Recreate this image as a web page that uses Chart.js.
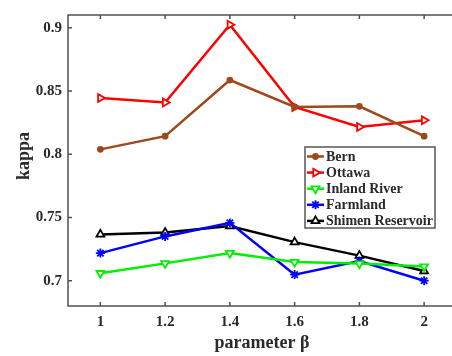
<!DOCTYPE html>
<html><head><meta charset="utf-8">
<script src="https://cdn.jsdelivr.net/npm/chart.js@4/dist/chart.umd.min.js"></script>
<style>html,body{margin:0;padding:0;background:#fff;overflow:hidden;width:452px;height:356px}canvas{display:block}</style>
</head><body>
<canvas id="c" width="470" height="356"></canvas>
<script>
const xValues = [1, 1.2, 1.4, 1.6, 1.8, 2];
const xTickLabels = ['1', '1.2', '1.4', '1.6', '1.8', '2'];
const yTicks = [0.7, 0.75, 0.8, 0.85, 0.9];
const yTickLabels = ['0.7', '0.75', '0.8', '0.85', '0.9'];
const seriesNames = ['Bern', 'Ottawa', 'Inland River', 'Farmland', 'Shimen Reservoir'];
const bern = [0.8038, 0.8142, 0.8586, 0.8373, 0.8378, 0.8142];
const ottawa = [0.8444, 0.8408, 0.9023, 0.8373, 0.8215, 0.8268];
const inlandRiver = [0.7059, 0.7137, 0.7218, 0.7147, 0.7135, 0.7112];
const farmland = [0.7218, 0.7350, 0.7457, 0.7048, 0.7155, 0.7000];
const shimenReservoir = [0.7366, 0.7381, 0.7432, 0.7305, 0.7198, 0.7076];

const FONT = '"Liberation Serif", "Times New Roman", serif';
const pts = arr => xValues.map((x, i) => ({x: x, y: arr[i]}));

const styles = [
  {color: '#9c4a1c', pointStyle: 'circle', rot: 0, r: 2.5, fill: '#9c4a1c'},
  {color: '#ff0000', pointStyle: 'triangle', rot: 90, r: 4.5, fill: '#ffffff'},
  {color: '#00ee00', pointStyle: 'triangle', rot: 180, r: 4.5, fill: '#ffffff'},
  {color: '#0000ff', pointStyle: 'star', rot: 0, r: 4.5, fill: '#0000ff'},
  {color: '#000000', pointStyle: 'triangle', rot: 0, r: 4.5, fill: '#ffffff'}
];
const seriesData = [bern, ottawa, inlandRiver, farmland, shimenReservoir];

const datasets = seriesData.map((arr, i) => ({
  label: seriesNames[i],
  data: pts(arr),
  borderColor: styles[i].color,
  backgroundColor: styles[i].fill,
  borderWidth: 2.5,
  pointStyle: styles[i].pointStyle,
  pointRotation: styles[i].rot,
  pointRadius: styles[i].r,
  pointBorderWidth: 1.8,
  pointBorderColor: styles[i].color,
  pointBackgroundColor: styles[i].fill,
  tension: 0
}));

const framePlugin = {
  id: 'frame',
  beforeDatasetsDraw(chart) {
    const ctx = chart.ctx, a = chart.chartArea;
    const xs = chart.scales.x, ys = chart.scales.y;
    ctx.save();
    ctx.strokeStyle = '#505050';
    ctx.lineWidth = 1.5;
    ctx.strokeRect(a.left, a.top, a.right - a.left, a.bottom - a.top);
    ctx.beginPath();
    xValues.forEach(v => {
      const px = xs.getPixelForValue(v);
      ctx.moveTo(px, a.bottom); ctx.lineTo(px, a.bottom - 4);
      ctx.moveTo(px, a.top); ctx.lineTo(px, a.top + 4);
    });
    yTicks.forEach(v => {
      const py = ys.getPixelForValue(v);
      ctx.moveTo(a.left, py); ctx.lineTo(a.left + 4, py);
      ctx.moveTo(a.right, py); ctx.lineTo(a.right - 4, py);
    });
    ctx.stroke();
    ctx.restore();
  },
  afterDraw(chart) {
    const ctx = chart.ctx;
    ctx.save();
    ctx.fillStyle = '#2a2a2a';
    ctx.font = 'bold 18px ' + FONT;
    ctx.textAlign = 'center';
    ctx.textBaseline = 'middle';
    ctx.fillText('parameter β', 262, 343);
    ctx.translate(24, 156);
    ctx.rotate(-Math.PI / 2);
    ctx.fillText('kappa', 0, 0);
    ctx.restore();
    // legend
    const lx = 305, ly = 147, lw = 130, lh = 81;
    ctx.save();
    ctx.fillStyle = '#ffffff';
    ctx.fillRect(lx, ly, lw, lh);
    ctx.strokeStyle = '#555555';
    ctx.lineWidth = 1.5;
    ctx.strokeRect(lx, ly, lw, lh);
    ctx.font = 'bold 14px ' + FONT;
    ctx.textBaseline = 'middle';
    ctx.textAlign = 'left';
    chart.data.datasets.forEach((ds, i) => {
      const y = 156.5 + i * 16.1;
      ctx.strokeStyle = ds.borderColor;
      ctx.lineWidth = 2.5;
      ctx.beginPath(); ctx.moveTo(307, y); ctx.lineTo(324, y); ctx.stroke();
      ctx.lineWidth = 1.8;
      ctx.fillStyle = ds.pointBackgroundColor;
      Chart.helpers.drawPoint(ctx, {pointStyle: ds.pointStyle, rotation: ds.pointRotation, radius: ds.pointRadius, borderWidth: 1.8}, 315.5, y);
      ctx.fillStyle = '#2a2a2a';
      ctx.fillText(ds.label, 326, y + 0.5);
    });
    ctx.restore();
  }
};

new Chart(document.getElementById('c'), {
  type: 'line',
  data: {datasets: datasets},
  plugins: [framePlugin],
  options: {
    responsive: false,
    animation: false,
    layout: {padding: {left: 0, top: 5, right: 13.5, bottom: 0}},
    plugins: {legend: {display: false}, tooltip: {enabled: false}},
    scales: {
      x: {
        type: 'linear', min: 0.9, max: 2.1,
        afterBuildTicks: s => { s.ticks = xValues.map(v => ({value: v})); },
        afterFit: s => { s.height = 50; },
        grid: {display: false, drawTicks: false},
        border: {display: false},
        ticks: {
          padding: 7, color: '#2a2a2a', autoSkip: false, maxRotation: 0,
          font: {family: FONT, size: 15, weight: 'bold'},
          callback: (v, i) => xTickLabels[i]
        }
      },
      y: {
        type: 'linear', min: 0.68, max: 0.91,
        afterBuildTicks: s => { s.ticks = yTicks.map(v => ({value: v})); },
        afterFit: s => { s.width = 68; },
        grid: {display: false, drawTicks: false},
        border: {display: false},
        ticks: {
          padding: 6, color: '#2a2a2a',
          font: {family: FONT, size: 15, weight: 'bold'},
          callback: (v, i) => yTickLabels[i]
        }
      }
    }
  }
});
</script>
</body></html>
